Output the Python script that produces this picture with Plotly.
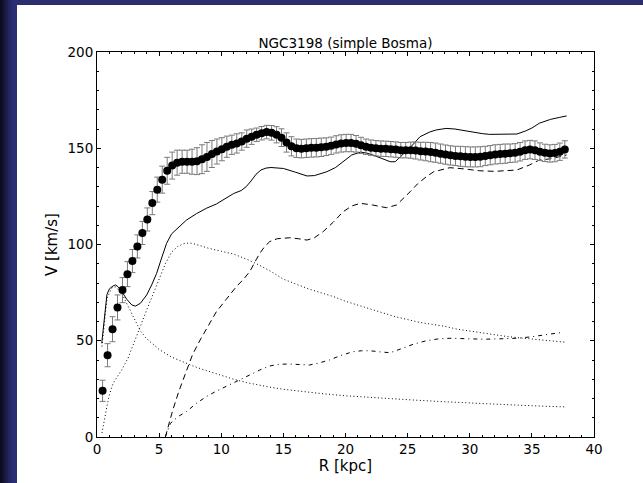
import plotly.graph_objects as go

# ---------------- data ----------------
r_obs = [0.45, 0.85, 1.25, 1.65, 2.05, 2.45, 2.85, 3.25, 3.65, 4.05,
         4.45, 4.85, 5.25, 5.65, 6.05, 6.45, 6.85, 7.25, 7.65, 8.05,
         8.45, 8.85, 9.25, 9.65, 10.05, 10.45, 10.85, 11.25, 11.65, 12.05,
         12.45, 12.85, 13.25, 13.65, 14.05, 14.45, 14.85, 15.25, 15.65, 16.05,
         16.45, 16.85, 17.25, 17.65, 18.05, 18.45, 18.85, 19.25, 19.65, 20.05,
         20.45, 20.85, 21.25, 21.65, 22.05, 22.45, 22.85, 23.25, 23.65, 24.05,
         24.45, 24.85, 25.25, 25.65, 26.05, 26.45, 26.85, 27.25, 27.65, 28.05,
         28.45, 28.85, 29.25, 29.65, 30.05, 30.45, 30.85, 31.25, 31.65, 32.05,
         32.45, 32.85, 33.25, 33.65, 34.05, 34.45, 34.85, 35.25, 35.65, 36.05,
         36.45, 36.85, 37.25, 37.65]
v_obs = [24, 42.5, 56, 67.3, 76.3, 84.6, 91.4, 99, 106, 113,
         121.5, 128.5, 133.7, 138.3, 141, 142.5, 143, 143, 143, 143.3,
         144.3, 145.5, 147, 148.3, 149.5, 150.8, 151.8, 152.5, 153.5, 155,
         156, 157, 157.8, 158.4, 158, 157, 155.5, 153, 151, 150,
         149.8, 150, 150.2, 150.3, 150.5, 150.8, 151.3, 152, 152.5, 152.7,
         152.7, 152.3, 151.5, 150.8, 150.3, 150, 149.8, 149.7, 149.5, 149.3,
         149, 149, 149, 148.8, 148.5, 148.3, 148, 147.7, 147.2, 146.7,
         146.3, 146, 145.8, 145.6, 145.5, 145.5, 145.6, 146, 146.4, 146.8,
         147, 147.2, 147.4, 147.6, 148.2, 149, 149.3, 149, 148.2, 147.6,
         147.3, 147.5, 148.2, 149.4]
e_obs = [5.5, 6, 6.5, 6.5, 6.5, 6.5, 6, 6, 6, 6,
         6, 6.5, 7, 7, 7, 6.5, 6, 6, 6.5, 7,
         7.5, 7.5, 7, 6.5, 6, 5.5, 5, 5, 4.5, 4.5,
         4, 3.5, 3.5, 3.5, 3.8, 4.2, 4.6, 5, 5, 4.8,
         4.8, 4.8, 4.8, 4.8, 4.8, 4.6, 4.5, 4.5, 4.5, 4.5,
         4.5, 4.3, 4.2, 4, 4, 4, 4, 4, 4, 4,
         4, 4, 4.2, 4.4, 4.6, 4.8, 5, 5, 5, 5,
         5, 5, 5.2, 5.2, 5.2, 5.2, 5.2, 5, 5, 5,
         5, 5, 4.8, 4.8, 4.8, 4.8, 4.8, 4.8, 4.6, 4.5,
         4.5, 4.5, 4.5, 4.5]

r_total = [0.38, 0.6, 0.8, 1.0, 1.3, 1.5, 1.7, 2.0, 2.4, 2.8, 3.1, 3.5, 4.0, 4.4,
           4.8, 5.2, 5.6, 6.0, 6.4, 7.2, 8.0, 8.8, 9.6, 10.4, 11.0, 11.6, 12.0,
           12.4, 12.8, 13.2, 13.6, 14.0, 15.0, 16.0, 16.9, 17.5, 18.5, 19.2,
           19.8, 20.5, 21.2, 21.7, 22.2, 23.0, 23.6, 24.0, 24.6, 25.3, 26.0,
           26.8, 27.3, 28.1, 28.8, 30.0, 31.0, 31.6, 32.5, 33.8, 34.5, 35.0,
           35.6, 36.5, 37.2, 37.8]
v_total = [48.7, 62, 74, 77, 78.5, 79, 78, 75.5, 71.5, 68.6, 68, 69.5, 73.8, 79,
           85, 93, 100.6, 105.5, 108, 112.7, 116, 118.8, 121, 124, 126.5, 128, 130,
           133, 136.5, 138.7, 139.7, 140, 139.5, 137.5, 135.6, 135.8, 137.8, 140,
           143, 146.5, 148, 147.5, 146.5, 144.5, 143, 143, 146.5, 151, 156,
           158.5, 159.5, 160.3, 160, 158.6, 157.6, 157.2, 157.2, 157.4, 159, 160.5,
           163, 165, 166, 166.8]

r_disk = [0.4, 0.6, 0.8, 1.0, 1.3, 1.6, 2.0, 2.5, 3.0, 3.5, 4.0, 4.5, 5.0, 5.5,
          6.0, 6.5, 7.0, 7.5, 8, 9, 10, 11, 12, 13, 14, 15, 16, 17, 18, 19, 20,
          21, 22, 23, 24, 25, 26, 27, 28, 29, 30, 31, 32, 33, 34, 35, 36, 37, 37.8]
v_disk = [2, 10, 16, 22, 28, 31, 35, 41, 49, 58, 66, 74, 82, 90,
          96, 99, 100.5, 100.8, 100, 98, 96.5, 95, 92.5, 89.5, 86, 82, 79.5, 77,
          75, 73, 70.5, 68.5, 66.5, 64.5, 62.5, 61, 59.5, 58.5, 57.5, 56, 55, 54,
          53, 52.2, 51.5, 51, 50.3, 49.6, 49.2]

r_bulge = [0.4, 0.8, 1.2, 1.5, 2.0, 2.5, 3.0, 3.5, 4.0, 4.5, 5.0, 6, 7, 8, 9,
           10, 11, 12, 13, 14, 15, 16, 17, 18, 20, 22, 24, 26, 28, 30, 32, 34,
           36, 37.8]
v_bulge = [47, 72, 77.5, 78, 74.5, 68, 61, 55, 51, 48, 45.5, 41.5, 38.8, 36.2,
           34.1, 32, 30, 28.3, 27, 25.8, 24.8, 24, 23.2, 22.6, 21.4, 20.5, 19.7,
           19, 18.3, 17.6, 17, 16.5, 16, 15.6]

r_halo = [5.5, 6.1, 6.6, 7.2, 7.7, 8.3, 9.0, 9.6, 10.4, 11.2, 11.8, 12.3, 12.8,
          13.1, 13.5, 13.9, 14.5, 15.5, 16.2, 16.9, 17.5, 18.2, 19.0, 19.8, 20.5,
          21.2, 22.2, 23.3, 24.1, 24.7, 25.2, 25.8, 26.5, 27.1, 28.1, 28.4, 29.5,
          30.8, 32, 33, 33.8, 34.8, 35.6, 36.5, 37.2, 37.8]
v_halo = [0, 14, 24, 34.8, 43, 50.4, 58, 65, 71.5, 78, 82, 86, 92,
          95.4, 99, 101.5, 103, 103.5, 103, 102.3, 103.5, 106.7, 111.5, 117, 120,
          121.4, 120.5, 119.1, 120.5, 124, 127.4, 131.5, 135.2, 137.8, 139.6, 139.9,
          139.3, 138.3, 138, 138.2, 138.7, 141.3, 143.9, 144.5, 145.5, 146.5]

r_gas = [5.5, 5.9, 6.5, 7.2, 8.0, 8.8, 9.6, 10.4, 11.2, 12.0, 12.6, 13.1, 13.9,
         14.7, 15.5, 16.3, 17.1, 17.9, 18.7, 19.6, 20.6, 21.3, 22.0, 22.8, 23.6,
         24.6, 25.5, 26.5, 27.4, 28.4, 29.7, 31.1, 32.4, 33.8, 34.9, 35.9, 36.7,
         37.5]
v_gas = [0, 7, 10.5, 13.2, 17.5, 21, 23.8, 26.1, 28.8, 31.3, 33.3, 34.8, 36.9,
         37.8, 37.9, 37.5, 37.4, 38.5, 40, 42.3, 44.3, 44.8, 44.8, 44.2, 43.8,
         46.1, 48.3, 50, 50.9, 51.3, 51.1, 50.8, 51, 51.3, 52, 53, 53.8, 54.4]

title_text = "NGC3198 (simple Bosma)"
x_label = "R [kpc]"
y_label = "V [km/s]"

# ---------------- figure ----------------
W, H = 643, 483
ML, MR, MT, MB = 97, 49, 52, 46
PW, PH = W - ML - MR, H - MT - MB

def px_x(px):
    return (px - ML) / PW

def px_y(py):
    return (H - MB - py) / PH

fig = go.Figure()

line_w = 1
fig.add_trace(go.Scatter(x=r_total, y=v_total, mode="lines",
                         line=dict(color="black", width=line_w), showlegend=False))
fig.add_trace(go.Scatter(x=r_disk, y=v_disk, mode="lines",
                         line=dict(color="black", width=line_w, dash="1px,2.5px"), showlegend=False))
fig.add_trace(go.Scatter(x=r_bulge, y=v_bulge, mode="lines",
                         line=dict(color="black", width=line_w, dash="1px,2.5px"), showlegend=False))
fig.add_trace(go.Scatter(x=r_halo, y=v_halo, mode="lines",
                         line=dict(color="black", width=line_w, dash="6px,4px"), showlegend=False))
fig.add_trace(go.Scatter(x=r_gas, y=v_gas, mode="lines",
                         line=dict(color="black", width=line_w, dash="4px,4px,1px,4px"), showlegend=False))
fig.add_trace(go.Scatter(x=r_obs, y=v_obs, mode="markers",
                         marker=dict(color="black", size=8, line=dict(width=0)),
                         error_y=dict(type="data", array=e_obs, color="#7a7a7a",
                                      thickness=1, width=3),
                         showlegend=False))

# slide-style dark blue border (top strip + left gradient strip)
shapes = [dict(type="rect", xref="paper", yref="paper",
               x0=px_x(-5), x1=px_x(W + 5), y0=px_y(5), y1=px_y(-5),
               fillcolor="#2a2e70", line=dict(width=0), layer="below")]
grad = ["#0c0c1e", "#121230", "#181942", "#1d1f52", "#222560", "#262a69",
        "#292d6f", "#2a2e72", "#2b2f74"]
for i, c in enumerate(grad):
    x0 = i * 2 if i > 0 else -5
    x1 = i * 2 + 2 if i < len(grad) - 1 else 17
    shapes.append(dict(type="rect", xref="paper", yref="paper",
                       x0=px_x(x0), x1=px_x(x1), y0=px_y(H + 5), y1=px_y(-5),
                       fillcolor=c, line=dict(width=0), layer="below"))

font_family = "DejaVu Sans, Verdana, sans-serif"
axis_common = dict(showgrid=False, zeroline=False, showline=True, linecolor="black",
                   linewidth=1, mirror="allticks", ticks="inside", ticklen=4,
                   tickwidth=1, tickcolor="black",
                   tickfont=dict(family=font_family, size=13.5, color="black"),
                   minor=dict(ticks="inside", ticklen=2, tickwidth=1, tickcolor="black",
                              showgrid=False))

fig.update_layout(
    width=W, height=H,
    margin=dict(l=ML, r=MR, t=MT, b=MB, pad=0),
    paper_bgcolor="white", plot_bgcolor="white",
    shapes=shapes,
    title=dict(text=title_text, x=0.5, xref="paper", xanchor="center",
               y=1, yref="paper", yanchor="bottom", pad=dict(b=4),
               font=dict(family=font_family, size=13.5, color="black")),
    xaxis=dict(range=[0, 40], dtick=5, tick0=0, **axis_common,
               title=dict(text=x_label, standoff=1,
                          font=dict(family=font_family, size=15, color="black"))),
    yaxis=dict(range=[0, 200], dtick=50, tick0=0, **axis_common,
               title=dict(text=y_label, standoff=6,
                          font=dict(family=font_family, size=15, color="black"))),
    showlegend=False,
)
fig.update_xaxes(minor_dtick=1)
fig.update_yaxes(minor_dtick=10)

fig.write_html("out.html",
               config={"displayModeBar": False, "staticPlot": True},
               post_script="document.body.style.margin='0';"
                           "document.body.style.overflow='hidden';")
